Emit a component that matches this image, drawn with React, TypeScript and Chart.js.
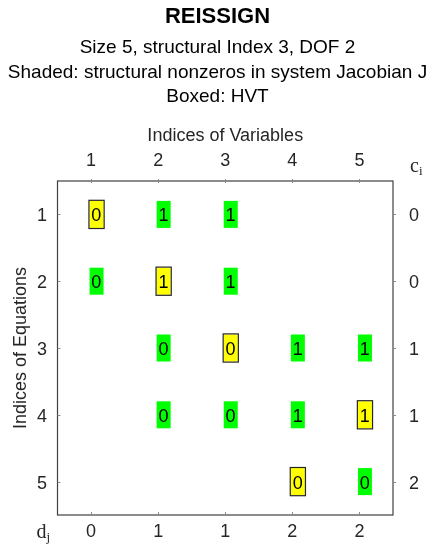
import React, { useEffect, useRef } from 'react';
import { Chart, registerables } from 'chart.js';

Chart.register(...registerables);

const SANS = "'Liberation Sans', Arial, Helvetica, sans-serif";
const SERIF = "'Liberation Serif', 'DejaVu Serif', serif";

const titleText = 'REISSIGN';
const subtitleLines = [
  'Size 5, structural Index 3, DOF 2',
  'Shaded: structural nonzeros in system Jacobian J',
  'Boxed: HVT',
];

const variableTicks = [1, 2, 3, 4, 5];
const equationTicks = [1, 2, 3, 4, 5];
const dOffsets = [0, 1, 1, 2, 2]; // d_j, one per variable
const cOffsets = [0, 0, 1, 1, 2]; // c_i, one per equation

const cellRows = [1, 1, 1, 2, 2, 2, 3, 3, 3, 3, 4, 4, 4, 4, 5, 5];
const cellCols = [1, 2, 3, 1, 2, 3, 2, 3, 4, 5, 2, 3, 4, 5, 4, 5];
const cellValues = [0, 1, 1, 0, 1, 1, 0, 0, 1, 1, 0, 0, 1, 1, 0, 0];
const cellHVT = [1, 0, 0, 0, 1, 0, 0, 1, 0, 0, 0, 0, 0, 1, 1, 0];

const AXIS_COLOR = '#262626';

const cellPlugin = {
  id: 'sigmaCells',
  afterDatasetsDraw(chart: any) {
    const { ctx, chartArea: a, scales } = chart;
    ctx.save();
    // box frame
    ctx.strokeStyle = '#404040';
    ctx.lineWidth = 1.2;
    ctx.strokeRect(a.left, a.top, a.right - a.left, a.bottom - a.top);
    // tick marks
    ctx.strokeStyle = '#8a8a8a';
    ctx.lineWidth = 1;
    const line = (x1: number, y1: number, x2: number, y2: number) => {
      ctx.beginPath();
      ctx.moveTo(x1, y1);
      ctx.lineTo(x2, y2);
      ctx.stroke();
    };
    variableTicks.forEach((v) => {
      const px = Math.round(scales.x.getPixelForValue(v)) + 0.5;
      line(px, a.top - 2, px, a.top + 2);
      line(px, a.bottom, px, a.bottom - 3);
    });
    equationTicks.forEach((v) => {
      const py = Math.round(scales.y.getPixelForValue(v)) + 0.5;
      line(a.left, py, a.left + 3, py);
      line(a.right, py, a.right + 3, py);
    });

    // cells
    const meta = chart.getDatasetMeta(0);
    const ds = chart.data.datasets[0].data as any[];
    meta.data.forEach((el: any, i: number) => {
      const { x, y } = el.getProps(['x', 'y'], true);
      const raw = ds[i];
      const bx = x - 1.5;
      const by = y - 13.5;
      const bw = 14;
      const bh = 27;
      if (raw.hvt) {
        ctx.fillStyle = '#ffff00';
        ctx.fillRect(bx, by, bw, bh);
        ctx.strokeStyle = '#262626';
        ctx.lineWidth = 1.2;
        ctx.strokeRect(bx - 0.6, by - 0.6, bw + 1.2, bh + 1.2);
      } else {
        ctx.fillStyle = '#00ff00';
        ctx.fillRect(bx, by, bw, bh);
      }
      ctx.fillStyle = '#000000';
      ctx.font = `18px ${SANS}`;
      ctx.textAlign = 'left';
      ctx.textBaseline = 'middle';
      ctx.fillText(String(raw.v), x + 0.3, y + 2);
    });

    // c_i and d_j labels
    ctx.fillStyle = AXIS_COLOR;
    ctx.textAlign = 'left';
    ctx.textBaseline = 'alphabetic';
    ctx.font = `20px ${SERIF}`;
    ctx.fillText('c', a.right + 17, a.top - 9);
    ctx.font = `13px ${SERIF}`;
    ctx.fillText('i', a.right + 26, a.top - 6);
    ctx.font = `20px ${SERIF}`;
    ctx.fillText('d', a.left - 21, a.bottom + 23);
    ctx.font = `13px ${SERIF}`;
    ctx.fillText('j', a.left - 11, a.bottom + 26);
    ctx.restore();
  },
};

const setTicks = (values: number[]) => (scale: any) => {
  scale.ticks = values.map((v) => ({ value: v }));
};

export default function App() {
  const canvasRef = useRef<HTMLCanvasElement | null>(null);

  useEffect(() => {
    document.body.style.margin = '0';
    const canvas = canvasRef.current;
    if (!canvas) return;
    const points = cellRows.map((r, i) => ({
      x: cellCols[i],
      y: r,
      v: cellValues[i],
      hvt: cellHVT[i] === 1,
    }));
    const tickFont = { family: SANS, size: 18 };
    const chart = new Chart(canvas, {
      type: 'scatter',
      data: {
        datasets: [
          {
            label: 'cells',
            data: points,
            pointRadius: 0,
            pointHoverRadius: 0,
            xAxisID: 'x',
            yAxisID: 'y',
          },
        ],
      },
      options: {
        animation: false,
        responsive: false,
        maintainAspectRatio: false,
        events: [],
        layout: { padding: 0 },
        plugins: {
          legend: { display: false },
          tooltip: { enabled: false },
          title: {
            display: true,
            text: titleText,
            color: '#000000',
            font: { family: SANS, size: 22, weight: 'bold', lineHeight: 1.2 },
            padding: { top: 3.8, bottom: 0 },
          },
          subtitle: {
            display: true,
            text: subtitleLines,
            color: '#000000',
            font: { family: SANS, size: 19, lineHeight: 1.2895 },
            padding: { top: 5.55, bottom: 0 },
          },
        },
        scales: {
          x: {
            type: 'linear',
            position: 'top',
            min: 0.5,
            max: 5.5,
            afterBuildTicks: setTicks(variableTicks),
            afterFit: (s: any) => {
              s.height = 71.75;
            },
            grid: { display: false, drawTicks: false },
            border: { display: false },
            ticks: {
              font: tickFont,
              color: AXIS_COLOR,
              padding: 8.7,
              maxRotation: 0,
              autoSkip: false,
              callback: (v: any) => String(v),
            },
            title: {
              display: true,
              text: 'Indices of Variables',
              color: AXIS_COLOR,
              font: { family: SANS, size: 18 },
              padding: { top: 16, bottom: 0 },
            },
          },
          x2: {
            type: 'linear',
            position: 'bottom',
            min: 0.5,
            max: 5.5,
            afterBuildTicks: setTicks(variableTicks),
            afterFit: (s: any) => {
              s.height = 35;
            },
            grid: { display: false, drawTicks: false },
            border: { display: false },
            ticks: {
              font: tickFont,
              color: AXIS_COLOR,
              padding: 6.2,
              maxRotation: 0,
              autoSkip: false,
              callback: (_v: any, idx: number) => String(dOffsets[idx]),
            },
          },
          y: {
            type: 'linear',
            position: 'left',
            reverse: true,
            min: 0.5,
            max: 5.5,
            afterBuildTicks: setTicks(equationTicks),
            afterFit: (s: any) => {
              s.width = 57.5;
            },
            grid: { display: false, drawTicks: false },
            border: { display: false },
            ticks: {
              font: tickFont,
              color: AXIS_COLOR,
              padding: 10.5,
              labelOffset: 2,
              autoSkip: false,
              callback: (v: any) => String(v),
            },
            title: {
              display: true,
              text: 'Indices of Equations',
              color: AXIS_COLOR,
              font: { family: SANS, size: 18 },
              padding: { top: 10.5, bottom: 0 },
            },
          },
          y2: {
            type: 'linear',
            position: 'right',
            reverse: true,
            min: 0.5,
            max: 5.5,
            afterBuildTicks: setTicks(equationTicks),
            afterFit: (s: any) => {
              s.width = 42;
            },
            grid: { display: false, drawTicks: false },
            border: { display: false },
            ticks: {
              font: tickFont,
              color: AXIS_COLOR,
              padding: 16,
              labelOffset: 2,
              autoSkip: false,
              callback: (_v: any, idx: number) => String(cOffsets[idx]),
            },
          },
        },
      } as any,
      plugins: [cellPlugin],
    });
    return () => chart.destroy();
  }, []);

  return (
    <div style={{ position: 'absolute', left: 0, top: 0, width: 435, height: 550 }}>
      <canvas ref={canvasRef} width={435} height={550} style={{ display: 'block' }} />
    </div>
  );
}
